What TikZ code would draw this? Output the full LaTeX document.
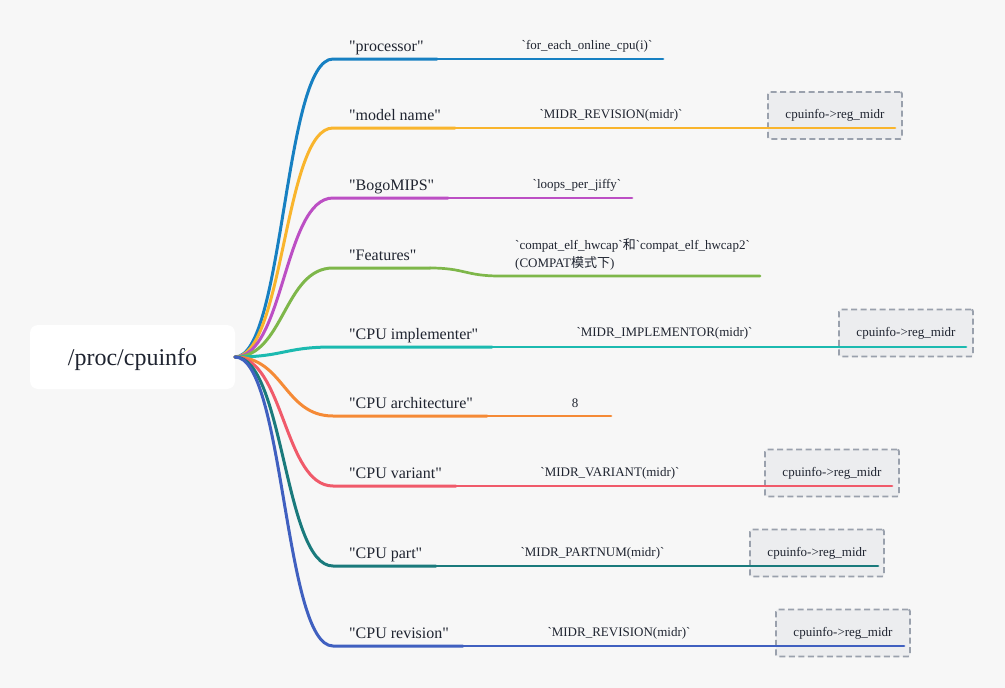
\documentclass[tikz,border=0pt]{standalone}
\usepackage{fontspec}
\setmainfont{Liberation Serif}[Ligatures=TeXOff]
\newfontfamily\cjk{Noto Sans CJK SC}
\definecolor{bgc}{HTML}{F7F7F7}
\definecolor{colA}{HTML}{1780C2}
\definecolor{colB}{HTML}{F9B52D}
\definecolor{colC}{HTML}{BC4FC4}
\definecolor{colD}{HTML}{7EB74A}
\definecolor{colE}{HTML}{1CBAB0}
\definecolor{colF}{HTML}{F58A36}
\definecolor{colG}{HTML}{F05A6A}
\definecolor{colH}{HTML}{1A7A7C}
\definecolor{colI}{HTML}{4060C0}
\definecolor{boxfill}{HTML}{ECEDEF}
\definecolor{boxline}{HTML}{9AA1AD}
\definecolor{txt}{HTML}{1F2430}
\begin{document}
\begin{tikzpicture}[x=1pt,y=-1pt,
  lvlone/.style={line width=3pt,line cap=round},
  lvltwo/.style={line width=2.7pt,line cap=round},
  lbl/.style={anchor=base west,inner sep=0pt,font=\fontsize{16}{18}\selectfont,text=txt},
  leaf/.style={anchor=base,inner sep=0pt,font=\fontsize{13}{15}\selectfont,text=txt},
  regbox/.style={draw=boxline,fill=boxfill,dashed,dash pattern=on 6pt off 3.5pt,line width=1.8pt,rounded corners=2pt,minimum width=134pt,minimum height=47pt,inner sep=0pt,font=\fontsize{13}{15}\selectfont,text=txt},
]
\fill[bgc] (0,0) rectangle (1005,688);
\useasboundingbox (0,0) rectangle (1005,688);

% root
\node[fill=white,rounded corners=8pt,minimum width=205pt,minimum height=64pt,inner sep=0pt] (root) at (132.5,357) {};
\node[anchor=base,inner sep=0pt,font=\fontsize{24}{28}\selectfont,text=txt] (roottxt) at (132.5,365) {/proc/cpuinfo};
\coordinate (r) at (235,357);

% boxes
\node[regbox] (boxB) at (835,115.5) {cpuinfo->reg\_midr};
\node[regbox] (boxE) at (906,333) {cpuinfo->reg\_midr};
\node[regbox] (boxG) at (832,473) {cpuinfo->reg\_midr};
\node[regbox] (boxH) at (817,553) {cpuinfo->reg\_midr};
\node[regbox] (boxI) at (843,633) {cpuinfo->reg\_midr};

% coordinates
\coordinate (sA) at (333,59);  \coordinate (mA) at (437,59);  \coordinate (eA) at (663,59);
\coordinate (sB) at (333,128); \coordinate (mB) at (455,128); \coordinate (eB) at (895,128);
\coordinate (sC) at (333,198); \coordinate (mC) at (448,198); \coordinate (eC) at (632,198);
\coordinate (sD) at (333,268); \coordinate (mD) at (430,268); \coordinate (dD) at (500,276); \coordinate (eD) at (760,276);
\coordinate (sE) at (333,347); \coordinate (mE) at (492,347); \coordinate (eE) at (966,347);
\coordinate (sF) at (333,416); \coordinate (mF) at (487,416); \coordinate (eF) at (611,416);
\coordinate (sG) at (333,486); \coordinate (mG) at (456,486); \coordinate (eG) at (892,486);
\coordinate (sH) at (333,566); \coordinate (mH) at (436,566); \coordinate (eH) at (878,566);
\coordinate (sI) at (333,646); \coordinate (mI) at (463,646); \coordinate (eI) at (904,646);

% connectors
\draw[lvlone,colA] (r) .. controls (284,357) and (284,59) .. (sA) -- (mA);
\draw[lvltwo,colA] (mA) -- (eA);
\draw[lvlone,colB] (r) .. controls (284,357) and (284,128) .. (sB) -- (mB);
\draw[lvltwo,colB] (mB) -- (eB);
\draw[lvlone,colC] (r) .. controls (284,357) and (284,198) .. (sC) -- (mC);
\draw[lvltwo,colC] (mC) -- (eC);
\draw[lvlone,colD] (r) .. controls (284,357) and (284,268) .. (sD) -- (mD);
\draw[lvltwo,colD] (mD) .. controls (465,268) and (465,276) .. (dD) -- (eD);
\draw[lvlone,colE] (r) .. controls (284,357) and (284,347) .. (sE) -- (mE);
\draw[lvltwo,colE] (mE) -- (eE);
\draw[lvlone,colF] (r) .. controls (284,357) and (284,416) .. (sF) -- (mF);
\draw[lvltwo,colF] (mF) -- (eF);
\draw[lvlone,colG] (r) .. controls (284,357) and (284,486) .. (sG) -- (mG);
\draw[lvltwo,colG] (mG) -- (eG);
\draw[lvlone,colH] (r) .. controls (284,357) and (284,566) .. (sH) -- (mH);
\draw[lvltwo,colH] (mH) -- (eH);
\draw[lvlone,colI] (r) .. controls (284,357) and (284,646) .. (sI) -- (mI);
\draw[lvltwo,colI] (mI) -- (eI);

% level one labels
\node[lbl] (lA) at (349,51)  {"processor"};
\node[lbl] (lB) at (349,120) {"model name"};
\node[lbl] (lC) at (349,190) {"BogoMIPS"};
\node[lbl] (lD) at (349,260) {"Features"};
\node[lbl] (lE) at (349,339) {"CPU implementer"};
\node[lbl] (lF) at (349,408) {"CPU architecture"};
\node[lbl] (lG) at (349,478) {"CPU variant"};
\node[lbl] (lH) at (349,558) {"CPU part"};
\node[lbl] (lI) at (349,638) {"CPU revision"};

% leaves
\node[leaf] (tA) at (587,49)    {`for\_each\_online\_cpu(i)`};
\node[leaf] (tB) at (611,118.5) {`MIDR\_REVISION(midr)`};
\node[leaf] (tC) at (577,188.5) {`loops\_per\_jiffy`};
\node[leaf,anchor=base west] (tD1) at (515,249) {`compat\_elf\_hwcap`{\cjk 和}`compat\_elf\_hwcap2`};
\node[leaf,anchor=base west] (tD2) at (515,267) {(COMPAT{\cjk 模式下})};
\node[leaf] (tE) at (664.5,336.5) {`MIDR\_IMPLEMENTOR(midr)`};
\node[leaf] (tF) at (575,407)   {8};
\node[leaf] (tG) at (610,476.5) {`MIDR\_VARIANT(midr)`};
\node[leaf] (tH) at (592.5,556.5) {`MIDR\_PARTNUM(midr)`};
\node[leaf] (tI) at (619,636.5) {`MIDR\_REVISION(midr)`};
\end{tikzpicture}
\end{document}
